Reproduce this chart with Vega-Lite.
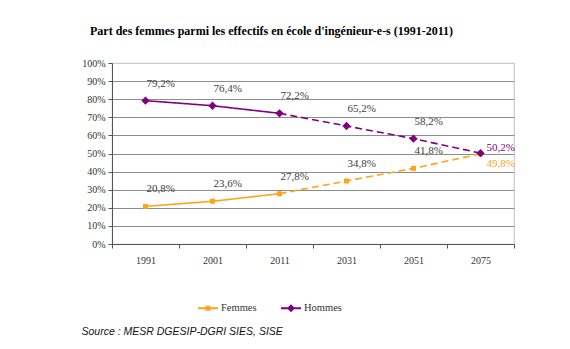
{
  "$schema": "https://vega.github.io/schema/vega-lite/v6.json",
  "width": 402,
  "height": 181,
  "autosize": {"type": "none"},
  "padding": {"left": 112, "top": 63, "right": 56, "bottom": 105},
  "background": "white",
  "title": {
    "text": "Part des femmes parmi les effectifs en école d'ingénieur-e-s (1991-2011)",
    "font": "Liberation Serif",
    "fontSize": 12,
    "fontWeight": "bold",
    "color": "#000000",
    "anchor": "start",
    "frame": "group",
    "dx": -22,
    "offset": 20
  },
  "data": {
    "values": [
      {"series": "Femmes", "year": "1991", "value": 0.208, "seg": "obs"},
      {"series": "Femmes", "year": "2001", "value": 0.236, "seg": "obs"},
      {"series": "Femmes", "year": "2011", "value": 0.278, "seg": "obs"},
      {"series": "Femmes", "year": "2011", "value": 0.278, "seg": "proj"},
      {"series": "Femmes", "year": "2031", "value": 0.348, "seg": "proj"},
      {"series": "Femmes", "year": "2051", "value": 0.418, "seg": "proj"},
      {"series": "Femmes", "year": "2075", "value": 0.498, "seg": "proj"},
      {"series": "Hommes", "year": "1991", "value": 0.792, "seg": "obs"},
      {"series": "Hommes", "year": "2001", "value": 0.764, "seg": "obs"},
      {"series": "Hommes", "year": "2011", "value": 0.722, "seg": "obs"},
      {"series": "Hommes", "year": "2011", "value": 0.722, "seg": "proj"},
      {"series": "Hommes", "year": "2031", "value": 0.652, "seg": "proj"},
      {"series": "Hommes", "year": "2051", "value": 0.582, "seg": "proj"},
      {"series": "Hommes", "year": "2075", "value": 0.502, "seg": "proj"}
    ]
  },
  "encoding": {
    "x": {
      "field": "year",
      "type": "ordinal",
      "bandPosition": 0.5,
      "scale": {"type": "band", "paddingInner": 0, "paddingOuter": 0},
      "axis": {
        "title": "Source : MESR DGESIP-DGRI SIES, SISE",
        "titleFont": "Liberation Sans",
        "titleFontStyle": "italic",
        "titleFontWeight": "normal",
        "titleFontSize": 10.5,
        "titleColor": "#111111",
        "titleAlign": "left",
        "titleBaseline": "middle",
        "titleX": -31,
        "titleY": 87,
        "labelAngle": 0,
        "labelFont": "Liberation Serif",
        "labelFontSize": 10,
        "labelColor": "#333333",
        "labelPadding": 7,
        "tickBand": "extent",
        "tickSize": 4,
        "tickColor": "#555555",
        "domainColor": "#555555",
        "grid": false
      }
    },
    "y": {
      "field": "value",
      "type": "quantitative",
      "scale": {"domain": [0, 1]},
      "axis": {
        "title": null,
        "values": [0, 0.1, 0.2, 0.3, 0.4, 0.5, 0.6, 0.7, 0.8, 0.9, 1],
        "format": ".0%",
        "labelFont": "Liberation Serif",
        "labelFontSize": 10,
        "labelColor": "#333333",
        "labelPadding": 3,
        "tickSize": 4,
        "tickColor": "#555555",
        "domainColor": "#555555",
        "grid": true,
        "gridColor": {"condition": {"test": "datum.value >= 1", "value": "#cccccc"}, "value": "#8c8c8c"},
        "gridWidth": 1.2
      }
    },
    "color": {
      "field": "series",
      "type": "nominal",
      "scale": {"domain": ["Femmes", "Hommes"], "range": ["#FFA31A", "#800080"]},
      "legend": {
        "title": null,
        "orient": "none",
        "direction": "horizontal",
        "legendX": 86,
        "legendY": 235,
        "padding": 0,
        "symbolSize": 400,
        "symbolStrokeWidth": 0,
        "labelFont": "Liberation Serif",
        "labelFontSize": 10.5,
        "labelColor": "#333333",
        "labelOffset": 3,
        "columnPadding": 24,
        "encode": {
          "symbols": {
            "update": {
              "shape": {"signal": "datum.value === 'Hommes' ? 'M-1,-0.1L1,-0.1L1,0.1L-1,0.1Z M0,-0.4L0.4,0L0,0.4L-0.4,0Z' : 'M-1,-0.1L1,-0.1L1,0.1L-1,0.1Z M-0.25,-0.25L0.25,-0.25L0.25,0.25L-0.25,0.25Z'"},
              "fill": {"signal": "datum.value === 'Hommes' ? '#800080' : '#FFA31A'"},
              "fillOpacity": {"value": 1},
              "opacity": {"value": 1},
              "strokeWidth": {"value": 0}
            }
          }
        }
      }
    }
  },
  "layer": [
    {
      "mark": {"type": "line", "strokeWidth": 1.6},
      "encoding": {
        "strokeDash": {
          "field": "seg",
          "type": "nominal",
          "scale": {"domain": ["obs", "proj"], "range": [[1, 0], [7, 4]]},
          "legend": null
        }
      }
    },
    {
      "transform": [{"filter": "(datum.seg === 'obs' || datum.year !== '2011') && datum.series === 'Femmes'"}],
      "mark": {"type": "point", "filled": true, "opacity": 1, "shape": "square", "size": 25}
    },
    {
      "transform": [{"filter": "(datum.seg === 'obs' || datum.year !== '2011') && datum.series === 'Hommes'"}],
      "mark": {"type": "point", "filled": true, "opacity": 1, "shape": "diamond", "size": 70}
    },
    {
      "transform": [{"filter": "datum.seg === 'obs' || (datum.year !== '2011' && datum.year !== '2075')"}],
      "mark": {"type": "text", "align": "left", "baseline": "middle", "dx": 1, "dy": -17, "font": "Liberation Serif", "fontSize": 11},
      "encoding": {
        "text": {"field": "value", "type": "quantitative", "format": ".1%"},
        "color": {"value": "#404040"}
      }
    },
    {
      "transform": [{"filter": "datum.year === '2075' && datum.series === 'Hommes'"}],
      "mark": {"type": "text", "align": "left", "baseline": "middle", "dx": 6, "dy": -5, "font": "Liberation Serif", "fontSize": 11},
      "encoding": {
        "text": {"field": "value", "type": "quantitative", "format": ".1%"}
      }
    },
    {
      "transform": [{"filter": "datum.year === '2075' && datum.series === 'Femmes'"}],
      "mark": {"type": "text", "align": "left", "baseline": "middle", "dx": 6, "dy": 10, "font": "Liberation Serif", "fontSize": 11},
      "encoding": {
        "text": {"field": "value", "type": "quantitative", "format": ".1%"}
      }
    }
  ],
  "config": {
    "font": "Liberation Serif",
    "text": {"font": "Liberation Serif"},
    "view": {"stroke": "#cccccc", "strokeWidth": 1.2},
    "locale": {
      "number": {"decimal": ",", "thousands": " ", "grouping": [3], "currency": ["", " €"]}
    }
  }
}
